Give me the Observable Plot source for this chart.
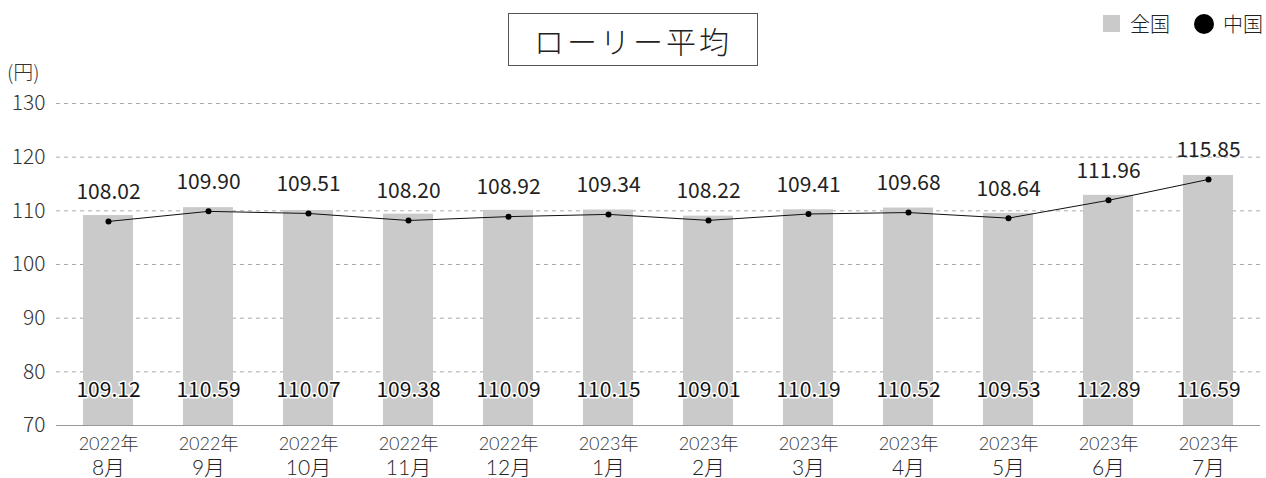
<!DOCTYPE html>
<html><head><meta charset="utf-8">
<script src="https://cdn.jsdelivr.net/npm/d3@7"></script>
<script src="https://cdn.jsdelivr.net/npm/@observablehq/plot@0.6"></script>
<style>
body{margin:0;background:#fff;font-family:"Noto Sans CJK JP","Noto Sans",sans-serif;font-weight:300;}
#wrap{position:relative;width:1266px;height:478px;}
#title{position:absolute;left:508px;top:13px;width:248px;height:51px;border:1px solid #555;display:flex;align-items:center;justify-content:center;font-size:30px;letter-spacing:3px;color:#222;}
#unit{position:absolute;left:7px;top:57px;font-size:20px;color:#333;}
.leg{position:absolute;top:9px;font-size:20px;color:#222;display:flex;align-items:center;}
#chart{position:absolute;left:0;top:0;}
</style></head>
<body><div id="wrap">
<div id="chart"></div>
<div id="title">ローリー平均</div>
<div id="unit">(円)</div>
<div class="leg" style="left:1103px"><span style="display:inline-block;width:17px;height:17px;background:#c9cac9;margin-right:10px"></span>全国</div>
<div class="leg" style="left:1194px"><span style="display:inline-block;width:20px;height:20px;border-radius:50%;background:#000;margin-right:9px"></span>中国</div>
</div>
<script>
const years = ["2022年","2022年","2022年","2022年","2022年","2023年","2023年","2023年","2023年","2023年","2023年","2023年"];
const months = ["8月","9月","10月","11月","12月","1月","2月","3月","4月","5月","6月","7月"];
const national = [109.12,110.59,110.07,109.38,110.09,110.15,109.01,110.19,110.52,109.53,112.89,116.59];
const chugoku = [108.02,109.90,109.51,108.20,108.92,109.34,108.22,109.41,109.68,108.64,111.96,115.85];
const yTicks = [70,80,90,100,110,120,130];

const data = months.map((m,i)=>({key:years[i]+m, year:years[i], month:m, national:national[i], chugoku:chugoku[i]}));
const keys = data.map(d=>d.key);
const font = '"Noto Sans CJK JP","Noto Sans",sans-serif';
const labelFont = 'Lato,"Noto Sans CJK JP",sans-serif';

const chart = Plot.plot({
  width:1266, height:478,
  marginLeft:56, marginRight:6, marginTop:103, marginBottom:53,
  style:{fontFamily:font, fontWeight:300, background:"transparent", overflow:"visible"},
  x:{domain:keys, paddingInner:0.5, paddingOuter:0.25, axis:null},
  y:{domain:[70,130], axis:null},
  marks:[
    Plot.ruleY(yTicks.slice(1), {stroke:"#aaa", strokeDasharray:"4,4", strokeWidth:1}),
    Plot.barY(data, {x:"key", y1:70, y2:"national", fill:"#c9cac9"}),
    Plot.ruleY([70], {stroke:"#999", strokeWidth:1}),
    Plot.axisY({ticks:yTicks, tickSize:0, tickPadding:11, fontSize:21, tickFormat:d=>d, color:"#333", textStroke:"none"}),
    Plot.line(data, {x:"key", y:"chugoku", stroke:"#111", strokeWidth:1}),
    Plot.dot(data, {x:"key", y:"chugoku", r:3, fill:"#000"}),
    Plot.text(data, {x:"key", y:"chugoku", text:d=>d.chugoku.toFixed(2), dy:-29, fontSize:21, fontWeight:400, fill:"#222"}),
    Plot.text(data, {x:"key", frameAnchor:"bottom", dy:-29, text:d=>d.national.toFixed(2), fontSize:21, fontWeight:400, fill:"#111", stroke:"#fff", strokeWidth:3, paintOrder:"stroke"}),
    Plot.text(data, {x:"key", frameAnchor:"bottom", lineAnchor:"top", text:d=>d.year+"\n"+d.month, fill:"#222", fontFamily:labelFont})
  ]
});
d3.select(chart).selectAll("text")
  .filter(function(){ return this.textContent.includes("年"); })
  .each(function(){
    const t = d3.select(this);
    t.attr("dy", null);
    const sp = t.selectAll("tspan");
    sp.filter((d,i)=>i===0).attr("dy", null).attr("y", 24).attr("font-size", 18).attr("fill", "#333");
    sp.filter((d,i)=>i===1).attr("dy", null).attr("y", 49).attr("font-size", 21);
  });
document.getElementById("chart").appendChild(chart);
</script>
</body></html>
